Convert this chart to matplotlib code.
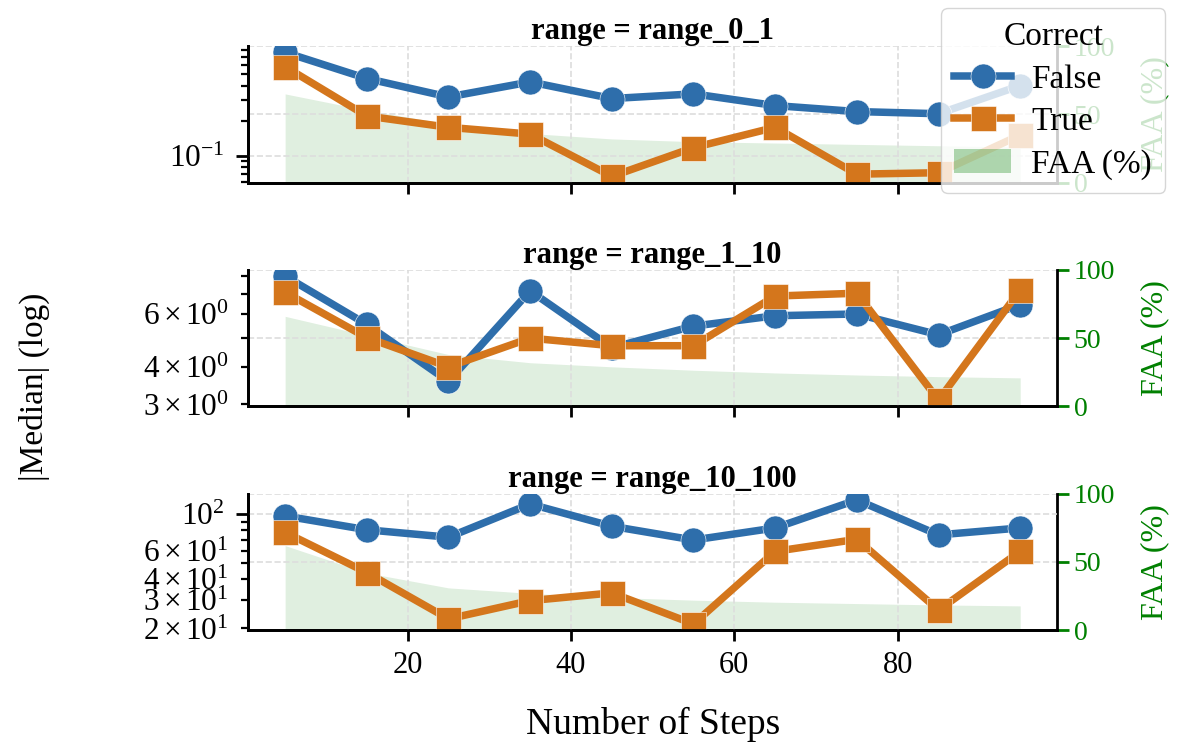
import matplotlib
matplotlib.use("Agg")
import matplotlib.pyplot as plt
from matplotlib.lines import Line2D
from matplotlib.patches import Patch

# Median magnitude per step bin, split by whether the answer was correct
steps = [5, 15, 25, 35, 45, 55, 65, 75, 85, 95]
ranges = ["range_0_1", "range_1_10", "range_10_100"]

median_false_0_1 = [0.77, 0.46, 0.32, 0.43, 0.31, 0.34, 0.27, 0.24, 0.23, 0.40]
median_true_0_1 = [0.58, 0.22, 0.176, 0.154, 0.067, 0.118, 0.176, 0.070, 0.072, 0.151]
median_false_1_10 = [8.0, 5.53, 3.58, 7.15, 4.63, 5.46, 5.91, 5.99, 5.11, 6.44]
median_true_1_10 = [7.07, 5.0, 4.0, 4.98, 4.70, 4.70, 6.87, 7.02, 3.10, 7.20]
median_false_10_100 = [97.7, 80.4, 72.4, 115.6, 84.5, 69.6, 82.5, 122.5, 74.8, 82.5]
median_true_10_100 = [77.5, 44.0, 22.9, 29.6, 33.0, 21.3, 59.3, 70.3, 25.9, 59.3]

# FAA (%) per step bin
faa_0_1 = [65, 53, 43, 36, 32, 30, 29, 28, 27, 26]
faa_1_10 = [66, 52, 38, 32, 29, 26.5, 24.5, 23, 21.8, 20.9]
faa_10_100 = [62, 42, 31, 27, 24, 22, 20.5, 19.5, 18.5, 17.8]

median_false = [median_false_0_1, median_false_1_10, median_false_10_100]
median_true = [median_true_0_1, median_true_1_10, median_true_10_100]
faa = [faa_0_1, faa_1_10, faa_10_100]

blue = "#2e6eab"
orange = "#d4761c"

plt.rcParams["font.family"] = ["Liberation Serif", "DejaVu Serif"]
plt.rcParams["mathtext.fontset"] = "stix"
plt.rcParams["axes.linewidth"] = 2
plt.rcParams["xtick.major.width"] = 2
plt.rcParams["ytick.major.width"] = 2
plt.rcParams["ytick.minor.width"] = 1.6
plt.rcParams["xtick.major.size"] = 8
plt.rcParams["ytick.major.size"] = 8.5
plt.rcParams["ytick.minor.size"] = 5
plt.rcParams["xtick.major.pad"] = 7
plt.rcParams["xtick.labelsize"] = 22
plt.rcParams["ytick.labelsize"] = 20

fig, axes = plt.subplots(3, 1, figsize=(11.77, 7.44), dpi=100, sharex=True)
fig.subplots_adjust(left=0.211, right=0.898, bottom=0.153, top=0.938, hspace=0.64)

for i, ax in enumerate(axes):
    ax2 = ax.twinx()
    ax2.fill_between(steps, 0, faa[i], color="green", alpha=0.12, lw=0)
    ax2.set_ylim(0, 100)
    ax2.set_yticks([0, 50, 100])
    ax2.tick_params(axis="y", colors="green", labelcolor="green")
    ax2.set_ylabel("FAA (%)", color="green", fontsize=23, labelpad=18)
    ax2.grid(True, axis="y", ls="--", color="#dddddd", lw=1.2)
    ax2.spines["top"].set_visible(False)

    # keep the lines above the FAA area of the twin axis
    ax.set_zorder(ax2.get_zorder() + 1)
    ax.patch.set_visible(False)

    ax.plot(steps, median_false[i], color=blue, lw=5.4, marker="o", ms=18,
            mec="white", mew=0.4)
    ax.plot(steps, median_true[i], color=orange, lw=5.4, marker="s", ms=18,
            mec="white", mew=0.4)
    ax.set_yscale("log")
    ax.tick_params(axis="y", which="both", labelsize=22.5, pad=9)
    ax.grid(True, ls="--", color="#dddddd", lw=1.2)
    ax.spines["top"].set_visible(False)
    ax.spines["right"].set_visible(False)
    ax.set_title("range = " + ranges[i], fontsize=22, fontweight="bold", pad=5)

axes[-1].set_xticks([20, 40, 60, 80])
axes[-1].set_xlabel("Number of Steps", fontsize=27, labelpad=19)
fig.supylabel("|Median| (log)", x=0.016, y=0.48, fontsize=24)

handles = [
    Line2D([], [], color=blue, lw=5.4, marker="o", ms=18, mec="white", mew=0.4),
    Line2D([], [], color=orange, lw=5.4, marker="s", ms=18, mec="white", mew=0.4),
    Patch(facecolor="green", alpha=0.3, lw=0),
]
fig.legend(handles, ["False", "True", "FAA (%)"], title="Correct",
           loc="upper right", bbox_to_anchor=(0.99, 0.989), borderaxespad=0,
           fontsize=24, title_fontsize=24, framealpha=0.8,
           labelspacing=0.36, handlelength=1.7, handletextpad=0.6)

plt.savefig("out.png", dpi=100)
